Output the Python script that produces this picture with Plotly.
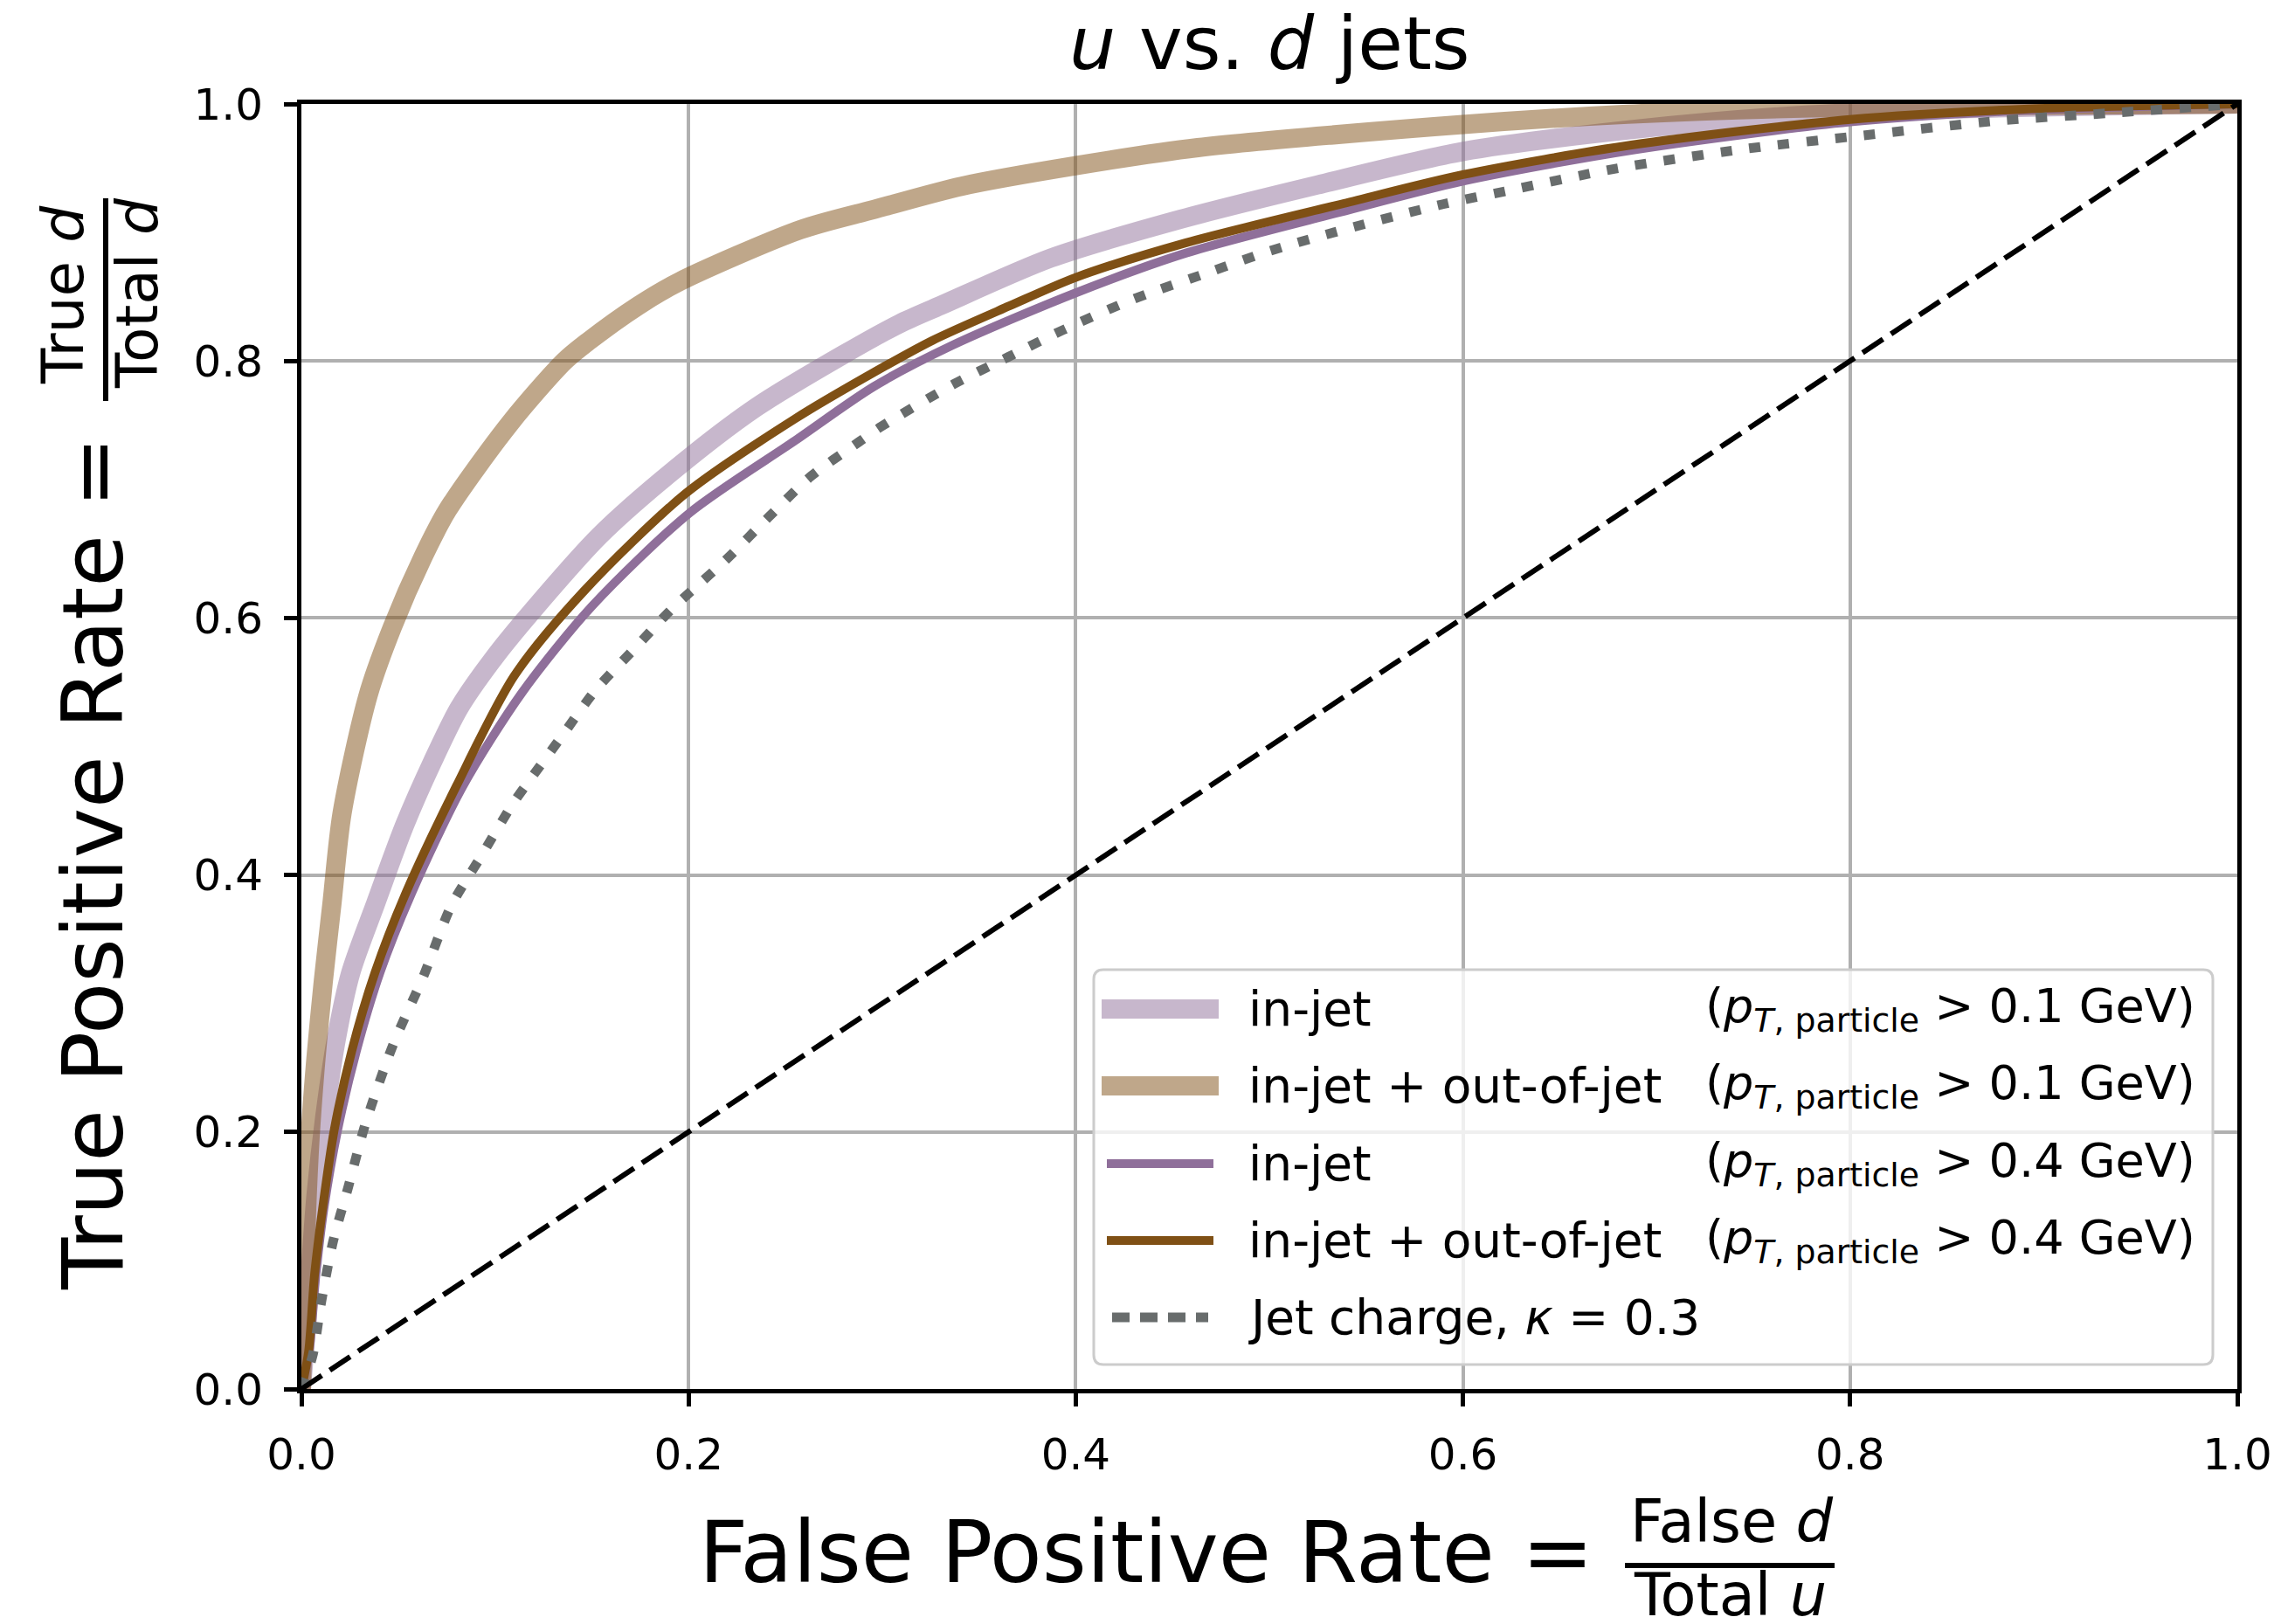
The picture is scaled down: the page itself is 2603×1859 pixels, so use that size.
import plotly.graph_objects as go

FONT = "DejaVu Sans"

# ---------------- data ----------------
# in-jet, pT,particle > 0.1 GeV
fpr_in_01 = [0, 0.0015, 0.0045, 0.0075, 0.012, 0.018, 0.0255, 0.0384, 0.0534, 0.0677,
             0.0815, 0.100, 0.119, 0.154, 0.194, 0.235, 0.280, 0.309, 0.330, 0.387,
             0.451, 0.525, 0.600, 0.687, 0.763, 0.850, 1.0]
tpr_in_01 = [0, 0.028, 0.089, 0.150, 0.211, 0.272, 0.324, 0.378, 0.439, 0.488,
             0.530, 0.570, 0.605, 0.664, 0.717, 0.764, 0.805, 0.829, 0.843, 0.880,
             0.909, 0.937, 0.963, 0.980, 0.990, 0.996, 1.0]

# in-jet + out-of-jet, pT,particle > 0.1 GeV
fpr_out_01 = [0, 0.0015, 0.0026, 0.0045, 0.0075, 0.0113, 0.0158, 0.021, 0.0345, 0.047,
              0.063, 0.0755, 0.108, 0.136, 0.148, 0.174, 0.195, 0.2575, 0.296, 0.341,
              0.400, 0.463, 0.600, 0.685, 0.780, 0.900, 1.0]
tpr_out_01 = [0, 0.074, 0.135, 0.196, 0.257, 0.317, 0.378, 0.448, 0.540, 0.593,
              0.648, 0.684, 0.752, 0.800, 0.815, 0.843, 0.8615, 0.902, 0.918, 0.936,
              0.952, 0.966, 0.984, 0.992, 0.997, 0.999, 1.0]

# in-jet, pT,particle > 0.4 GeV
fpr_in_04 = [0, 0.004, 0.0075, 0.0117, 0.0188, 0.0284, 0.0406, 0.0564, 0.0834, 0.114,
             0.150, 0.2007, 0.255, 0.2956, 0.336, 0.400, 0.457, 0.537, 0.600, 0.687,
             0.800, 0.890, 1.0]
tpr_in_04 = [0, 0.029, 0.089, 0.141, 0.202, 0.263, 0.324, 0.384, 0.469, 0.542,
             0.609, 0.682, 0.738, 0.780, 0.812, 0.853, 0.884, 0.916, 0.940, 0.964,
             0.986, 0.995, 1.0]

# in-jet + out-of-jet, pT,particle > 0.4 GeV
fpr_out_04 = [0, 0.0037, 0.0068, 0.011, 0.017, 0.026, 0.038, 0.0534, 0.080, 0.110,
              0.146, 0.1986, 0.255, 0.2956, 0.326, 0.366, 0.400, 0.457, 0.537, 0.600,
              0.687, 0.800, 0.890, 1.0]
tpr_out_04 = [0, 0.029, 0.089, 0.141, 0.202, 0.263, 0.324, 0.384, 0.469, 0.555,
              0.621, 0.697, 0.755, 0.791, 0.816, 0.843, 0.865, 0.892, 0.922, 0.945,
              0.968, 0.988, 0.996, 1.0]

# jet charge, kappa = 0.3
fpr_jc = [0, 0.0058, 0.0104, 0.0164, 0.024, 0.033, 0.0474, 0.063, 0.0774, 0.093,
          0.109, 0.118, 0.135, 0.152, 0.172, 0.190, 0.2007, 0.2198, 0.241, 0.263,
          0.288, 0.2996, 0.337, 0.365, 0.3933, 0.4296, 0.4707, 0.501, 0.5454, 0.5897,
          0.6216, 0.680, 0.7455, 0.8036, 0.877, 0.935, 1.0]
tpr_jc = [0, 0.026, 0.069, 0.115, 0.156, 0.206, 0.268, 0.321, 0.376, 0.415,
          0.455, 0.474, 0.509, 0.544, 0.576, 0.605, 0.620, 0.646, 0.678, 0.710,
          0.737, 0.749, 0.782, 0.803, 0.824, 0.848, 0.870, 0.886, 0.905, 0.922,
          0.932, 0.950, 0.965, 0.975, 0.987, 0.993, 1.0]

# random-guess diagonal
diag = [0, 1]

tick_vals = [0.0, 0.2, 0.4, 0.6, 0.8, 1.0]
tick_text = ["0.0", "0.2", "0.4", "0.6", "0.8", "1.0"]

legend_labels = ["in-jet", "in-jet + out-of-jet", "in-jet", "in-jet + out-of-jet",
                 "Jet charge, <i>κ</i> = 0.3"]
legend_cuts = ["0.1", "0.1", "0.4", "0.4", None]

# ---------------- styles ----------------
PURPLE = "#8f6f9a"
BROWN = "#7f5015"
LIGHT_PURPLE = "rgba(143,111,154,0.5)"
TAN = "rgba(127,80,21,0.5)"
GRAY = "#686c6c"

W, H = 2603, 1859
L, R, T, B = 345, 42, 119, 269
PW, PH = W - L - R, H - T - B


def px(X):
    return (X - L) / PW


def py(Y):
    return 1 - (Y - T) / PH


fig = go.Figure()

series = [
    (fpr_in_01, tpr_in_01, LIGHT_PURPLE, 22, "solid"),
    (fpr_out_01, tpr_out_01, TAN, 22, "solid"),
    (fpr_in_04, tpr_in_04, PURPLE, 10, "solid"),
    (fpr_out_04, tpr_out_04, BROWN, 10, "solid"),
    (fpr_jc, tpr_jc, GRAY, 11, "13px,20px"),
]
for (xs, ys, col, lw, dash) in series:
    fig.add_trace(go.Scatter(x=xs, y=ys, mode="lines",
                             line=dict(color=col, width=lw, dash=dash,
                                       shape="spline", smoothing=0.8),
                             showlegend=False, hoverinfo="skip"))

fig.add_trace(go.Scatter(x=diag, y=diag, mode="lines",
                         line=dict(color="black", width=6, dash="28px,11px"),
                         showlegend=False, hoverinfo="skip"))

axis_common = dict(
    range=[0, 1], tickvals=tick_vals, ticktext=tick_text,
    showgrid=True, gridcolor="#b0b0b0", gridwidth=3.5,
    showline=True, linecolor="black", linewidth=5, mirror=True,
    ticks="outside", ticklen=15, tickwidth=5, tickcolor="black",
    tickfont=dict(family=FONT, size=50, color="black"),
    zeroline=False, fixedrange=True, automargin=False,
)
fig.update_xaxes(**axis_common, ticklabelstandoff=12)
fig.update_yaxes(**axis_common, ticklabelstandoff=14)

shapes = []
annotations = []

# title
annotations.append(dict(text="<i>u</i> vs. <i>d</i> jets", x=0.5, y=py(50),
                        xref="paper", yref="paper", xanchor="center", yanchor="middle",
                        showarrow=False, font=dict(family=FONT, size=84, color="black")))

# x-axis label with fraction
annotations.append(dict(text="False Positive Rate =", x=px(1826), y=py(1777),
                        xref="paper", yref="paper", xanchor="right", yanchor="middle",
                        showarrow=False, font=dict(family=FONT, size=98, color="black")))
annotations.append(dict(text="False <i>d</i>", x=px(1982), y=py(1742),
                        xref="paper", yref="paper", xanchor="center", yanchor="middle",
                        showarrow=False, font=dict(family=FONT, size=67, color="black")))
annotations.append(dict(text="Total <i>u</i>", x=px(1980), y=py(1826),
                        xref="paper", yref="paper", xanchor="center", yanchor="middle",
                        showarrow=False, font=dict(family=FONT, size=67, color="black")))
shapes.append(dict(type="line", xref="paper", yref="paper",
                   x0=px(1860), x1=px(2100), y0=py(1792), y1=py(1792),
                   line=dict(color="black", width=6), layer="above"))

# y-axis label with fraction (rotated)
annotations.append(dict(text="True Positive Rate =", x=px(107), y=py(989),
                        xref="paper", yref="paper", xanchor="center", yanchor="middle",
                        textangle=-90, showarrow=False,
                        font=dict(family=FONT, size=97, color="black")))
annotations.append(dict(text="True <i>d</i>", x=px(73), y=py(338),
                        xref="paper", yref="paper", xanchor="center", yanchor="middle",
                        textangle=-90, showarrow=False,
                        font=dict(family=FONT, size=66, color="black")))
annotations.append(dict(text="Total <i>d</i>", x=px(157), y=py(336),
                        xref="paper", yref="paper", xanchor="center", yanchor="middle",
                        textangle=-90, showarrow=False,
                        font=dict(family=FONT, size=66, color="black")))
shapes.append(dict(type="line", xref="paper", yref="paper",
                   x0=px(121), x1=px(121), y0=py(227), y1=py(459),
                   line=dict(color="black", width=6), layer="above"))

# ---------------- custom legend ----------------
lx0, lx1, ly0, ly1 = px(1252), px(2533), py(1562), py(1110)
rx, ry = 11 / PW, 11 / PH
path = (f"M {lx0+rx},{ly0} L {lx1-rx},{ly0} Q {lx1},{ly0} {lx1},{ly0+ry} "
        f"L {lx1},{ly1-ry} Q {lx1},{ly1} {lx1-rx},{ly1} L {lx0+rx},{ly1} "
        f"Q {lx0},{ly1} {lx0},{ly1-ry} L {lx0},{ly0+ry} Q {lx0},{ly0} {lx0+rx},{ly0} Z")
shapes.append(dict(type="path", path=path, xref="paper", yref="paper",
                   fillcolor="rgba(255,255,255,0.8)",
                   line=dict(color="#cccccc", width=3), layer="above"))

row_Y = [1155, 1243, 1332, 1420, 1508]
swatch = [
    (1261, 1395, LIGHT_PURPLE, 22, "solid"),
    (1261, 1395, TAN, 22, "solid"),
    (1267, 1389, PURPLE, 10, "solid"),
    (1267, 1389, BROWN, 10, "solid"),
    (1273, 1383, GRAY, 11, "20px,12px"),
]
for i, (a, b, col, lw, dash) in enumerate(swatch):
    yy = py(row_Y[i])
    shapes.append(dict(type="line", xref="paper", yref="paper",
                       x0=px(a), x1=px(b), y0=yy, y1=yy,
                       line=dict(color=col, width=lw, dash=dash), layer="above"))
    annotations.append(dict(text=legend_labels[i], x=px(1427), y=yy,
                            xref="paper", yref="paper", xanchor="left", yanchor="middle",
                            showarrow=False, font=dict(family=FONT, size=55, color="black")))
    if legend_cuts[i] is not None:
        annotations.append(dict(
            text=f"(<i>p</i><sub><i>T</i>, particle</sub> > {legend_cuts[i]} GeV)",
            x=px(1950), y=yy, xref="paper", yref="paper", xanchor="left", yanchor="middle",
            showarrow=False, font=dict(family=FONT, size=54, color="black")))

fig.update_layout(
    template="none",
    width=W, height=H,
    margin=dict(l=L, r=R, t=T, b=B, pad=0, autoexpand=False),
    paper_bgcolor="white", plot_bgcolor="white",
    showlegend=False,
    shapes=shapes, annotations=annotations,
    font=dict(family=FONT, color="black"),
)

fig.write_html("out.html")
